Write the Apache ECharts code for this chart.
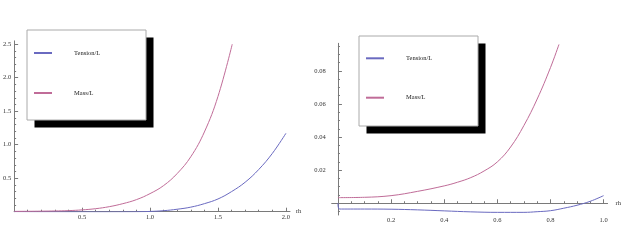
<!DOCTYPE html>
<html>
<head>
<meta charset="utf-8">
<script src="https://cdn.jsdelivr.net/npm/echarts@6/dist/echarts.min.js"></script>
<style>html,body{margin:0;padding:0;background:#fff}#c{width:624px;height:251px}</style>
</head>
<body>
<div id="c"></div>
<script>
// ---- data ----
const seriesNames = ['Tension/L', 'Mass/L'];

const leftTensionRh = [0, 0.1, 0.2, 0.3, 0.4, 0.5, 0.6, 0.7, 0.8, 0.9, 1.0, 1.1, 1.2, 1.3, 1.4, 1.5, 1.6, 1.7, 1.8, 1.9, 2.0];
const leftTension   = [0, -0.002, -0.003, -0.003, -0.004, -0.004, -0.005, -0.005, -0.004, -0.002, 0.004, 0.015, 0.037, 0.068, 0.12, 0.19, 0.30, 0.44, 0.63, 0.87, 1.17];
const leftMassRh    = [0, 0.1, 0.2, 0.3, 0.4, 0.5, 0.6, 0.7, 0.8, 0.9, 1.0, 1.1, 1.2, 1.3, 1.4, 1.5, 1.605];
const leftMass      = [0.005, 0.006, 0.008, 0.011, 0.016, 0.027, 0.045, 0.075, 0.12, 0.18, 0.27, 0.39, 0.57, 0.82, 1.19, 1.72, 2.5];

const rightTensionRh = [0, 0.005, 0.1, 0.2, 0.3, 0.4, 0.5, 0.6, 0.7, 0.75, 0.8, 0.85, 0.9, 0.95, 1.0];
const rightTension   = [0, -0.0035, -0.0035, -0.0036, -0.004, -0.0046, -0.0052, -0.0055, -0.0055, -0.0051, -0.0045, -0.003, -0.0012, 0.0012, 0.0046];
const rightMassRh    = [0, 0.1, 0.2, 0.3, 0.4, 0.45, 0.5, 0.55, 0.6, 0.65, 0.7, 0.75, 0.8, 0.832];
const rightMass      = [0.0034, 0.0036, 0.0046, 0.0072, 0.0105, 0.0127, 0.0155, 0.0195, 0.025, 0.034, 0.047, 0.063, 0.082, 0.096];

// tick labels
const leftXTicks  = [0.5, 1.0, 1.5, 2.0];
const leftYTicks  = [0.5, 1.0, 1.5, 2.0, 2.5];
const rightXTicks = [0.2, 0.4, 0.6, 0.8, 1.0];
const rightYTicks = [0.02, 0.04, 0.06, 0.08];
const xName = 'rh';

// ---- helpers ----
function pairs(xs, ys) { return xs.map((x, i) => [x, ys[i]]); }
function minors(from, to, step, majorStep) {
  const out = [];
  const n = Math.round((to - from) / step);
  for (let i = 0; i <= n; i++) {
    const v = +(from + i * step).toFixed(6);
    const r = v / majorStep;
    if (Math.abs(r - Math.round(r)) > 1e-6) out.push(v);
  }
  return out;
}

const FONT = '"Liberation Serif", "DejaVu Serif", serif';
const AX = '#7a7a7a';
const BLUE = '#6a6ac0';
const PINK = '#c06c98';
const lblStyle = { fontFamily: FONT, fontSize: 6.5, color: '#333' };

function xAxisPair(grid, min, max, majors, minorList, onZeroIdx, nameGap) {
  return [{
    gridIndex: grid, type: 'value', min: min, max: max, position: 'bottom',
    name: xName, nameLocation: 'end', nameGap: nameGap,
    nameTextStyle: { fontFamily: FONT, fontSize: 6.5, color: '#333', verticalAlign: 'middle' },
    axisLine: { show: true, onZero: true, onZeroAxisIndex: onZeroIdx, lineStyle: { color: AX, width: 1 } },
    axisTick: { show: true, inside: true, length: 4, customValues: majors, lineStyle: { color: AX } },
    axisLabel: { show: true, customValues: majors, margin: 2, formatter: v => (+v).toFixed(1), ...lblStyle },
    splitLine: { show: false }
  }, {
    gridIndex: grid, type: 'value', min: min, max: max, position: 'bottom',
    axisLine: { show: false, onZero: true, onZeroAxisIndex: onZeroIdx },
    axisTick: { show: true, inside: true, length: 2, customValues: minorList, lineStyle: { color: AX } },
    axisLabel: { show: false }, splitLine: { show: false }
  }];
}
function yAxisPair(grid, min, max, majors, minorList, fmt, onZeroIdx, margin) {
  return [{
    gridIndex: grid, type: 'value', min: min, max: max, position: 'left',
    axisLine: { show: true, onZero: true, onZeroAxisIndex: onZeroIdx, lineStyle: { color: AX, width: 1 } },
    axisTick: { show: true, inside: true, length: 4, customValues: majors, lineStyle: { color: AX } },
    axisLabel: { show: true, customValues: majors, margin: margin, formatter: fmt, ...lblStyle },
    splitLine: { show: false }
  }, {
    gridIndex: grid, type: 'value', min: min, max: max, position: 'left',
    axisLine: { show: false, onZero: true, onZeroAxisIndex: onZeroIdx },
    axisTick: { show: true, inside: true, length: 2, customValues: minorList, lineStyle: { color: AX } },
    axisLabel: { show: false }, splitLine: { show: false }
  }];
}

const lxA = xAxisPair(0, 0, 2.03, leftXTicks, minors(0.1, 2.0, 0.1, 0.5), 0, 4);
const rxA = xAxisPair(1, -0.0235, 1.015, rightXTicks, minors(0.05, 1.0, 0.05, 0.2), 2, 8);
const lyA = yAxisPair(0, 0, 2.55, leftYTicks, minors(0.1, 2.5, 0.1, 0.5), v => (+v).toFixed(1), 0, 3);
const ryA = yAxisPair(1, -0.0071, 0.0967, rightYTicks, minors(-0.005, 0.095, 0.005, 0.02), v => (+v).toFixed(2), 2, 6);

function legendAt(left, top, gap) {
  return {
    show: true, orient: 'vertical', left: left, top: top,
    data: seriesNames, itemWidth: 18, itemHeight: 10, itemGap: gap,
    padding: 0, backgroundColor: 'transparent', borderWidth: 0,
    selectedMode: false, z: 10,
    itemStyle: { color: 'transparent', borderColor: 'transparent', borderWidth: 0 },
    textStyle: { fontFamily: FONT, fontSize: 6.5, color: '#222', padding: [0, 0, 0, 17] }
  };
}
function legendFrame(x, y, w, h) {
  return [
    { type: 'rect', left: x + 8, top: y + 8, z: 5, silent: true,
      shape: { width: w, height: h }, style: { fill: '#000' } },
    { type: 'rect', left: x, top: y, z: 6, silent: true,
      shape: { width: w, height: h }, style: { fill: '#fff', stroke: '#aaa', lineWidth: 1 } }
  ];
}

function line(name, xi, yi, data, color) {
  return {
    name: name, type: 'line', xAxisIndex: xi, yAxisIndex: yi, data: data,
    showSymbol: false, symbol: 'none', smooth: 0.4,
    lineStyle: { color: color, width: 1 }, itemStyle: { color: color },
    clip: true, animation: false, z: 3
  };
}

const option = {
  animation: false,
  backgroundColor: '#fff',
  grid: [
    { left: 12.5, top: 40.85, width: 277.5, height: 170.85, containLabel: false },
    { left: 331.7, top: 43.3, width: 280, height: 171.7, containLabel: false }
  ],
  xAxis: [...lxA, ...rxA],
  yAxis: [...lyA, ...ryA],
  graphic: [...legendFrame(26.5, 29.5, 119, 90), ...legendFrame(358.5, 35.5, 119, 90)],
  legend: [
    legendAt(33, 49, 32),
    legendAt(365, 54.3, 31.4)
  ],
  series: [
    line('Tension/L', 0, 0, pairs(leftTensionRh, leftTension), BLUE),
    line('Mass/L', 0, 0, pairs(leftMassRh, leftMass), PINK),
    line('Tension/L', 2, 2, pairs(rightTensionRh, rightTension), BLUE),
    line('Mass/L', 2, 2, pairs(rightMassRh, rightMass), PINK)
  ]
};

const chart = echarts.init(document.getElementById('c'), null, { renderer: 'canvas' });
chart.setOption(option);
</script>
</body>
</html>
